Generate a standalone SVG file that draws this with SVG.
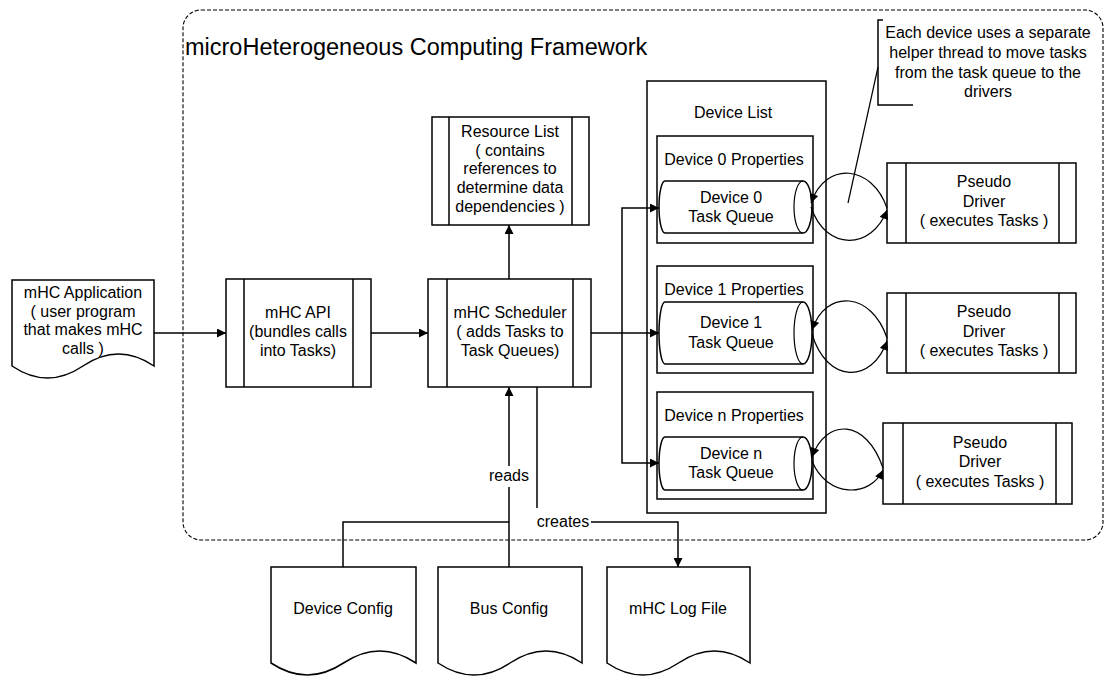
<svg xmlns="http://www.w3.org/2000/svg" width="1107" height="677" viewBox="0 0 1107 677">
<defs>
<marker id="ah" viewBox="0 0 10 10" refX="10" refY="5" markerWidth="10" markerHeight="9" markerUnits="userSpaceOnUse" orient="auto"><path d="M0,0 L10,5 L0,10 z" fill="#000"/></marker>
<style>
.s{fill:#fff;stroke:#000;stroke-width:1.5}
.l{fill:none;stroke:#000;stroke-width:1.5}
.c{fill:none;stroke:#000;stroke-width:1.2}
.fw{fill:none;stroke:#000;stroke-width:1.1;stroke-dasharray:4 2}
text{font-family:"Liberation Sans",Arial,sans-serif;font-size:16px;fill:#000;text-anchor:middle}
.t{font-size:23.5px;text-anchor:start}
</style>
</defs>
<rect width="1107" height="677" fill="#fff"/>
<g id="framework">
<rect class="fw" x="183" y="10" width="920" height="530" rx="18"/>
<text class="t" x="185" y="55">microHeterogeneous Computing Framework</text>
</g>
<g id="app">
<path class="s" d="M12,280 H154 V366 Q118.5,342 83,366 T12,366 Z"/>
<text x="83" y="298">mHC Application</text>
<text x="83" y="317">( user program</text>
<text x="83" y="335">that makes mHC</text>
<text x="83" y="354">calls )</text>
</g>
<g id="api">
<rect class="s" x="226" y="279" width="145" height="108"/>
<path class="l" d="M244,279 V387 M353,279 V387"/>
<text x="298" y="318">mHC API</text>
<text x="298" y="337">(bundles calls</text>
<text x="298" y="356">into Tasks)</text>
</g>
<g id="scheduler">
<rect class="s" x="428" y="279" width="163" height="108"/>
<path class="l" d="M447,279 V387 M573,279 V387"/>
<text x="510" y="318">mHC Scheduler</text>
<text x="510" y="337">( adds Tasks to</text>
<text x="510" y="356">Task Queues)</text>
</g>
<g id="resource">
<rect class="s" x="432" y="117" width="157" height="108"/>
<path class="l" d="M449,117 V225 M572,117 V225"/>
<text x="510" y="137">Resource List</text>
<text x="510" y="156">( contains</text>
<text x="510" y="174">references to</text>
<text x="510" y="193">determine data</text>
<text x="510" y="212">dependencies )</text>
</g>
<g id="devicelist">
<rect class="s" x="647" y="81" width="179" height="432"/>
<text x="733" y="118">Device List</text>
</g>
<g id="device0">
<rect class="s" x="657" y="136" width="156" height="107"/>
<text x="734" y="165">Device 0 Properties</text>
<path class="s" d="M665,181 H803 A9,26 0 0 1 803,233 H665 A6,26 0 0 1 665,181 Z"/>
<path class="c" d="M803,181 A9,26 0 0 0 803,233"/>
<text x="731" y="203">Device 0</text>
<text x="731" y="222">Task Queue</text>
</g>
<g id="device1">
<rect class="s" x="657" y="266" width="156" height="107"/>
<text x="734" y="295">Device 1 Properties</text>
<path class="s" d="M665,302 H803 A9,31 0 0 1 803,364 H665 A6,31 0 0 1 665,302 Z"/>
<path class="c" d="M803,302 A9,31 0 0 0 803,364"/>
<text x="731" y="328">Device 1</text>
<text x="731" y="348">Task Queue</text>
</g>
<g id="devicen">
<rect class="s" x="657" y="392" width="156" height="107"/>
<text x="734" y="421">Device n Properties</text>
<path class="s" d="M665,437 H803 A9,26.5 0 0 1 803,490 H665 A6,26.5 0 0 1 665,437 Z"/>
<path class="c" d="M803,437 A9,26.5 0 0 0 803,490"/>
<text x="731" y="459">Device n</text>
<text x="731" y="478">Task Queue</text>
</g>
<g id="driver0">
<rect class="s" x="887" y="163" width="189" height="80"/>
<path class="l" d="M906,163 V243 M1059,163 V243"/>
<text x="984" y="187">Pseudo</text>
<text x="984" y="207">Driver</text>
<text x="984" y="226">( executes Tasks )</text>
</g>
<g id="driver1">
<rect class="s" x="887" y="293" width="189" height="80"/>
<path class="l" d="M906,293 V373 M1059,293 V373"/>
<text x="984" y="317">Pseudo</text>
<text x="984" y="337">Driver</text>
<text x="984" y="356">( executes Tasks )</text>
</g>
<g id="drivern">
<rect class="s" x="883" y="423" width="189" height="81"/>
<path class="l" d="M903,423 V504 M1056,423 V504"/>
<text x="980" y="448">Pseudo</text>
<text x="980" y="467">Driver</text>
<text x="980" y="487">( executes Tasks )</text>
</g>
<g id="callout">
<path class="l" d="M883,20 H878 V105 H913"/>
<path class="c" d="M878,67 L848,203"/>
<text x="988" y="38">Each device uses a separate</text>
<text x="988" y="58">helper thread to move tasks</text>
<text x="988" y="78">from the task queue to the</text>
<text x="988" y="97">drivers</text>
</g>
<g id="deviceconfig">
<path class="s" d="M271,567 H416 V663 Q379.75,639 343.5,663 T271,663 Z"/>
<text x="343" y="614">Device Config</text>
</g>
<g id="busconfig">
<path class="s" d="M438,567 H582 V663 Q546,639 510,663 T438,663 Z"/>
<text x="509" y="614">Bus Config</text>
</g>
<g id="logfile">
<path class="s" d="M607,567 H750 V663 Q714.25,639 678.5,663 T607,663 Z"/>
<text x="678" y="614">mHC Log File</text>
</g>
<g id="connectors">
<path class="l" d="M154,333 H226" marker-end="url(#ah)"/>
<path class="l" d="M371,333 H428" marker-end="url(#ah)"/>
<path class="l" d="M509,279 V225" marker-end="url(#ah)"/>
<path class="l" d="M591,333 H659" marker-end="url(#ah)"/>
<path class="l" d="M622,333 V208 H659" marker-end="url(#ah)"/>
<path class="l" d="M622,333 V463 H659" marker-end="url(#ah)"/>
<path class="l" d="M343,567 V522 H509"/>
<path class="l" d="M509,567 V487"/>
<path class="l" d="M509,466 V387" marker-end="url(#ah)"/>
<text x="509" y="481">reads</text>
<path class="l" d="M537,387 V508"/>
<path class="l" d="M591,522 H678 V567" marker-end="url(#ah)"/>
<text x="563" y="527">creates</text>
<path class="c" d="M887,208 C872,165 826,160 811,203" marker-end="url(#ah)"/>
<path class="c" d="M811,207 C826,252 872,250 887,210" marker-end="url(#ah)"/>
<path class="c" d="M887,338 C872,292 826,288 812,330" marker-end="url(#ah)"/>
<path class="c" d="M812,334 C827,384 872,384 887,341" marker-end="url(#ah)"/>
<path class="c" d="M883,468 C866,418 826,418 812,457" marker-end="url(#ah)"/>
<path class="c" d="M812,461 C827,498 870,498 883,470" marker-end="url(#ah)"/>
</g>
</svg>
